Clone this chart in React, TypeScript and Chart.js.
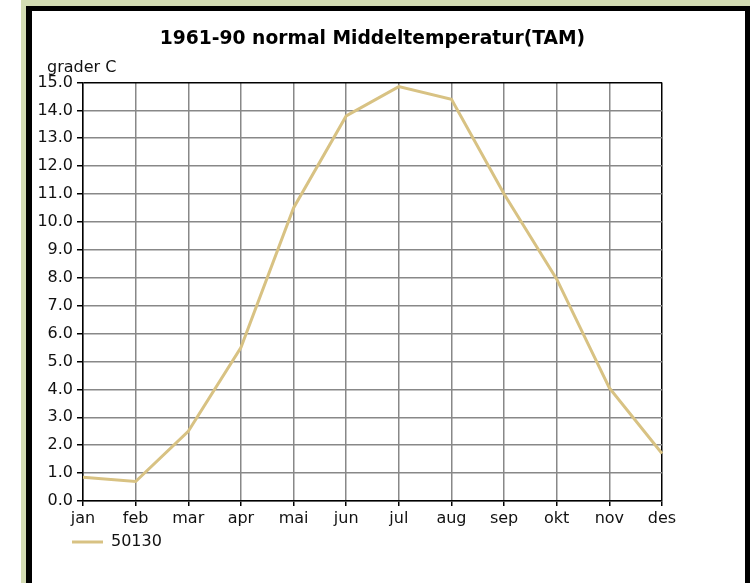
import React, { useEffect, useRef } from "react";
import { Chart, registerables } from "chart.js";

Chart.register(...registerables);

const months = ["jan", "feb", "mar", "apr", "mai", "jun", "jul", "aug", "sep", "okt", "nov", "des"];
const station = "50130";
const temps = [0.85, 0.7, 2.5, 5.5, 10.5, 13.8, 14.85, 14.4, 11.0, 7.95, 4.05, 1.7];
const titleText = "1961-90 normal Middeltemperatur(TAM)";
const yUnit = "grader C";
const yMin = 0;
const yMax = 15;
const yStep = 1;

const LINE = "#d8c283";
const GRID = "#888888";
const FONT = "'DejaVu Sans', sans-serif";

export default function App() {
  const ref = useRef<HTMLCanvasElement | null>(null);

  useEffect(() => {
    if (!ref.current) return;
    const unitLabel = {
      id: "unitLabel",
      afterLayout(chart: any) {
        if (chart.legend) {
          chart.legend.left = 36;
        }
      },
      afterDraw(chart: any) {
        const { ctx, chartArea } = chart;
        ctx.save();
        ctx.font = `16px ${FONT}`;
        ctx.fillStyle = "#111";
        ctx.textBaseline = "middle";
        ctx.textAlign = "left";
        ctx.fillText(yUnit, chartArea.left - 36, chartArea.top - 15);
        ctx.restore();
      },
    };
    const chart = new Chart(ref.current, {
      type: "line",
      data: {
        labels: months,
        datasets: [
          {
            label: station,
            data: temps,
            borderColor: LINE,
            backgroundColor: LINE,
            borderWidth: 3,
            pointRadius: 0,
            tension: 0,
          },
        ],
      },
      options: {
        responsive: false,
        animation: false,
        layout: { padding: { left: 0, right: 83, top: 0, bottom: 23 } },
        plugins: {
          title: {
            display: true,
            text: titleText,
            fullSize: false,
            color: "#000",
            font: { family: FONT, size: 18.7, weight: "bold" },
            padding: { top: 17, bottom: 32 },
          },
          legend: {
            position: "bottom",
            align: "start",
            labels: {
              boxWidth: 31,
              boxHeight: 3,
              padding: 4,
              color: "#111",
              font: { family: FONT, size: 16 },
              generateLabels: (c: any) =>
                Chart.defaults.plugins.legend.labels.generateLabels(c).map((l: any) => ({
                  ...l,
                  lineWidth: 0,
                  fillStyle: LINE,
                })),
            },
          },
          tooltip: { enabled: false },
        },
        scales: {
          x: {
            offset: false,
            afterFit: (s: any) => {
              s.height = 29;
            },
            grid: {
              color: (c: any) => (c.index === months.length - 1 ? "#000" : GRID),
              tickColor: "#000",
              tickLength: 5,
              lineWidth: 1.5,
            },
            border: { color: "#000", width: 1.5 },
            ticks: {
              color: "#111",
              font: { family: FONT, size: 16 },
              padding: 3,
              maxRotation: 0,
              autoSkip: false,
            },
          },
          y: {
            min: yMin,
            max: yMax,
            afterFit: (s: any) => {
              s.width = 51;
            },
            grid: {
              color: (c: any) => (c.tick && c.tick.value === yMax ? "#000" : GRID),
              tickColor: "#000",
              tickLength: 6,
              lineWidth: 1.5,
            },
            border: { color: "#000", width: 1.5 },
            ticks: {
              stepSize: yStep,
              color: "#111",
              font: { family: FONT, size: 16 },
              padding: 4,
              callback: (v: any) => Number(v).toFixed(1),
            },
          },
        },
      },
      plugins: [unitLabel],
    });
    return () => chart.destroy();
  }, []);

  return (
    <div style={{ position: "absolute", left: 0, top: 0, width: 750, height: 583, background: "#fff", overflow: "hidden" }}>
      <div style={{ position: "absolute", left: 21, top: 0, width: 729, height: 583, background: "#d3dcb3" }} />
      <div style={{ position: "absolute", left: 26, top: 6, width: 724, height: 577, background: "#000" }} />
      <div style={{ position: "absolute", left: 32, top: 11, width: 713, height: 572, background: "#fff" }}>
        <canvas ref={ref} width={713} height={572} style={{ display: "block" }} />
      </div>
    </div>
  );
}
